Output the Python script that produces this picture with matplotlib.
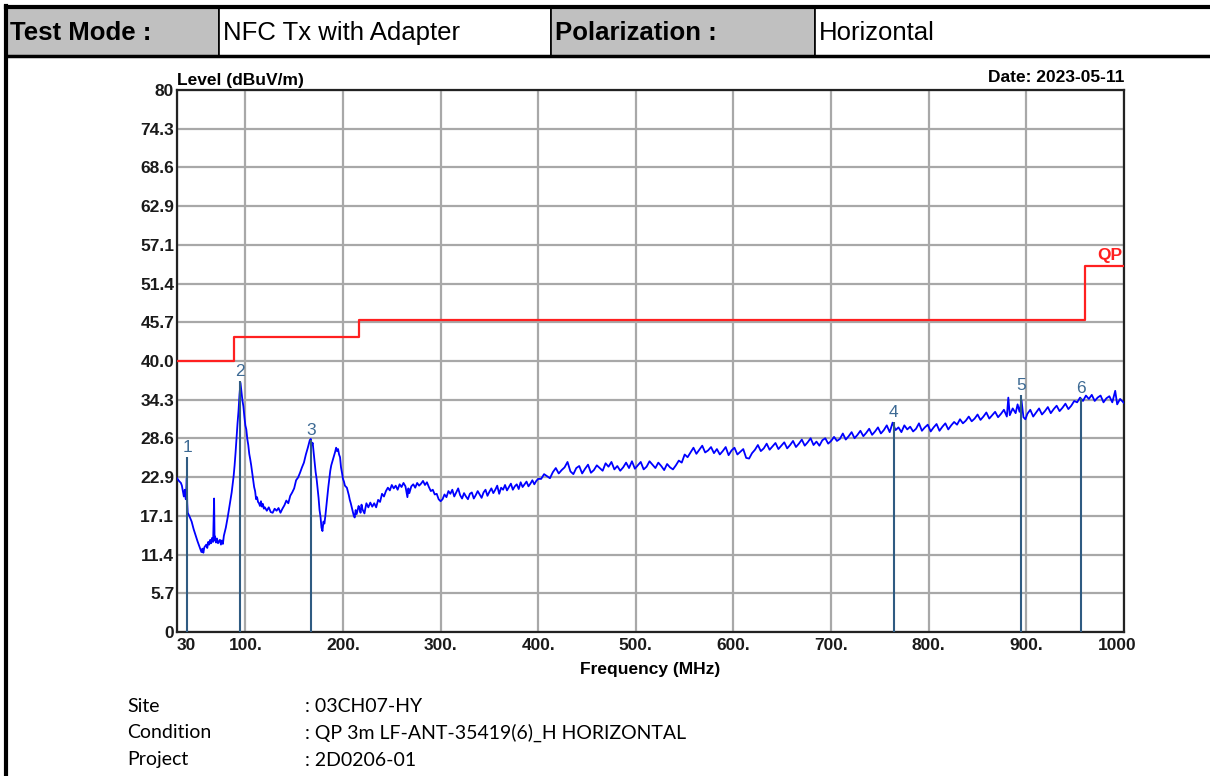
import matplotlib
matplotlib.use("Agg")
import matplotlib.pyplot as plt
from matplotlib.patches import Rectangle
from matplotlib.transforms import offset_copy

# ---------------- data ----------------
freq = [30, 32, 34, 35, 36, 37, 38, 39, 40, 40.5, 41, 43, 45, 47, 49, 51, 53, 55, 56, 57, 58, 60, 61, 62, 63, 64, 65, 66, 67, 68, 68.5, 69, 70, 71, 72, 74, 75, 76, 77, 78, 80, 82, 84, 86, 88, 89, 90, 91, 92, 93, 94, 95, 96, 97, 98, 99, 100,
        101, 102, 103, 104, 105, 106, 107, 108, 109, 110, 111, 112, 113, 114, 115, 116, 117, 118, 119, 120, 122, 124, 126, 128, 130, 132, 134, 136, 138, 140, 142, 144, 146, 148, 150,
        152, 154, 156, 158, 160, 162, 164, 166, 167, 168, 169, 170, 171, 172, 173, 174, 175, 176, 177, 178, 179, 180, 181, 182, 183, 184, 185, 186, 187, 188, 190, 192, 193, 194, 195, 196, 197, 198, 199, 200,
        201, 202, 204, 206, 207, 208, 210, 211, 212, 213, 214, 216, 217, 218, 219, 220, 222, 223, 224, 226, 228, 230, 232, 234, 236, 238, 240, 242, 244, 246, 248, 250,
        252, 254, 256, 258, 260, 262, 264, 266, 267, 268, 270, 272, 274, 276, 278, 280, 282, 284, 286, 288, 290, 292, 294, 296, 298, 300,
        302, 304, 306, 308, 310, 312, 314, 316, 318, 320, 322, 324, 326, 328, 330, 332, 334, 336, 338, 340, 342, 344, 346, 348, 350,
        352, 354, 356, 358, 360, 362, 364, 366, 368, 370, 372, 374, 376, 378, 380, 382, 384, 386, 388, 390, 392, 394, 396, 398, 400,
        403, 406, 409, 412, 415, 418, 421, 424, 427, 430, 433, 436, 439, 442, 445, 448, 451, 454, 457, 460, 463, 466, 469, 472, 475, 478, 481, 484, 487, 490, 493, 496, 499,
        502, 505, 508, 511, 514, 517, 520, 523, 526, 529, 532, 535, 538, 541, 544, 547, 550, 553, 556, 559, 562, 565, 568, 571, 574, 577, 580, 583, 586, 589, 592, 595, 598,
        601, 604, 607, 610, 613, 616, 619, 622, 625, 628, 631, 634, 637, 640, 643, 646, 649, 652, 655, 658, 661, 664, 667, 670, 673, 676, 679, 682, 685, 688, 691, 694, 697, 700,
        703, 706, 709, 712, 715, 718, 721, 724, 727, 730, 733, 736, 739, 742, 745, 748, 751, 754, 757, 760, 763, 766, 769, 772, 775, 778, 781, 784, 787, 790, 793, 796, 799,
        802, 805, 808, 811, 814, 817, 820, 823, 826, 829, 832, 835, 838, 841, 844, 847, 850, 853, 856, 859, 862, 865, 868, 871, 874, 877, 880, 881.5, 883, 886, 889, 891, 893, 895, 897, 899,
        901, 904, 907, 910, 913, 916, 919, 922, 925, 928, 931, 934, 937, 940, 943, 946, 949, 952, 955, 958, 961, 964, 967, 970, 973, 976, 979, 982, 985, 988, 991, 993, 996, 1000]
level = [22.7, 22.3, 22.0, 21.6, 20.8, 20.0, 21.0, 19.6, 22.7, 19.0, 17.6, 17.0, 16.3, 15.2, 14.3, 13.4, 12.6, 11.8, 12.3, 11.7, 12.5, 12.9, 12.4, 13.3, 12.9, 13.6, 13.1, 13.9, 13.3, 19.7, 13.5, 14.1, 13.2, 13.8, 13.1, 13.6, 12.9, 13.5, 13.0, 14.2, 15.4, 17.0, 18.8, 20.6, 23.0, 24.6, 26.5, 28.7, 30.8, 32.6, 35.0, 36.8, 35.5, 34.2, 33.3, 31.8, 30.5,
         29.9, 28.5, 27.6, 26.3, 25.5, 24.6, 23.5, 22.3, 21.4, 20.8, 19.6, 19.9, 19.2, 19.0, 18.6, 19.3, 18.5, 18.9, 18.2, 18.4, 17.9, 18.4, 17.7, 17.6, 18.2, 17.9, 18.3, 17.6, 18.2, 18.7, 19.4, 19.0, 20.1, 20.6, 21.2,
         22.4, 22.8, 23.5, 24.3, 25.0, 26.2, 27.2, 28.3, 28.5, 27.6, 27.9, 26.5, 25.0, 23.6, 22.6, 21.2, 19.8, 18.0, 17.0, 15.4, 14.9, 16.3, 16.0, 17.2, 18.6, 20.0, 21.4, 22.6, 23.8, 24.6, 25.6, 26.6, 27.2, 26.7, 27.0, 26.2, 25.8, 24.3, 23.5, 22.6,
         22.2, 21.6, 21.3, 20.2, 19.5, 19.0, 17.8, 17.2, 16.9, 18.0, 17.4, 18.6, 18.2, 17.6, 18.8, 18.1, 17.5, 18.3, 19.0, 18.4, 19.1, 18.5, 19.0, 18.4, 19.5, 19.2, 20.4, 20.0, 20.8, 21.3, 20.9, 21.7,
         21.2, 21.6, 21.0, 21.8, 21.4, 22.0, 21.5, 19.9, 21.2, 20.5, 21.5, 21.8, 21.3, 22.0, 21.6, 21.9, 22.3, 21.7, 22.1, 21.4, 20.8, 21.0, 20.3, 20.4, 19.6, 19.3,
         19.6, 20.3, 19.9, 20.8, 20.4, 21.0, 20.0, 20.6, 21.2, 20.2, 19.7, 20.5, 20.0, 19.6, 20.4, 20.6, 19.7, 20.2, 20.8, 20.3, 19.8, 20.6, 21.0, 20.1, 20.7,
         21.2, 20.5, 21.0, 21.6, 20.4, 21.3, 21.0, 21.7, 20.9, 21.4, 21.9, 21.0, 21.5, 21.8, 21.1, 22.1, 21.4, 21.8, 22.2, 21.5, 21.9, 22.4, 21.8, 22.3, 22.6,
         22.6, 23.3, 23.0, 22.7, 23.6, 24.2, 23.4, 23.9, 24.3, 25.1, 23.7, 23.3, 24.2, 24.5, 23.4, 24.1, 24.7, 23.5, 23.9, 24.6, 24.2, 23.8, 24.9, 24.4, 25.1, 24.0, 24.5, 23.8, 24.3, 25.0, 24.2, 25.2, 24.1,
         24.6, 25.1, 24.0, 24.4, 25.2, 24.7, 24.2, 25.0, 24.5, 23.9, 24.8, 24.3, 24.0, 24.6, 25.3, 25.0, 26.2, 25.8, 26.5, 27.2, 26.3, 26.9, 27.5, 26.5, 26.8, 27.3, 26.4, 27.0, 26.2, 26.7, 27.3, 26.1, 26.8,
         27.2, 26.2, 26.6, 27.0, 25.7, 25.6, 26.4, 26.9, 27.6, 26.7, 27.1, 27.8, 26.9, 27.4, 27.9, 27.0, 27.5, 28.0, 27.1, 27.6, 28.2, 27.3, 27.8, 28.4, 27.5, 28.0, 28.6, 27.6, 28.1, 27.5, 28.3, 28.6, 27.8, 28.2,
         28.8, 28.2, 28.5, 29.3, 28.4, 28.9, 29.5, 28.6, 29.1, 29.7, 28.9, 29.4, 30.0, 29.1, 29.6, 30.2, 29.3, 29.8, 30.5, 29.5, 30.9, 29.8, 30.2, 29.5, 30.5, 29.9, 30.3, 29.6, 30.0, 30.8, 29.7, 30.2, 30.6,
         29.6, 30.2, 30.7, 29.7, 30.3, 30.8, 29.9, 30.5, 31.0, 30.6, 31.4, 30.8, 31.2, 31.8, 31.1, 31.5, 32.1, 31.3, 31.8, 32.4, 31.5, 32.0, 32.5, 31.7, 32.2, 32.8, 31.8, 34.6, 32.0, 33.0, 32.3, 33.6, 32.5, 34.2, 31.7, 31.4,
         32.2, 32.8, 31.8, 32.4, 33.0, 32.1, 32.6, 33.2, 32.3, 32.9, 33.4, 32.6, 33.1, 33.7, 32.9, 33.4, 34.1, 33.9, 34.6, 34.1, 34.9, 34.4, 35.0, 34.1, 34.6, 34.9, 33.9, 34.5, 34.8, 33.9, 35.6, 33.6, 34.4, 33.8]

limit_edges = [30, 88, 216, 960, 1000]
limit_values = [40.0, 43.5, 46.0, 54.0, 54.0]

marker_freq = [40.6, 94.5, 167.0, 764.0, 895.0, 955.6]
marker_level = [25.8, 37.1, 28.4, 31.0, 35.0, 34.5]
marker_labels = ["1", "2", "3", "4", "5", "6"]

ytick_labels = ["0", "5.7", "11.4", "17.1", "22.9", "28.6", "34.3", "40.0",
                "45.7", "51.4", "57.1", "62.9", "68.6", "74.3", "80"]
xtick_vals = [30, 100, 200, 300, 400, 500, 600, 700, 800, 900, 1000]
xtick_labels = ["30", "100.", "200.", "300.", "400.", "500.", "600.", "700.", "800.", "900.", "1000"]

header_texts = ["Test Mode :", "NFC Tx with Adapter", "Polarization :", "Horizontal"]
info_keys = ["Site", "Condition", "Project"]
info_vals = [": 03CH07-HY", ": QP 3m LF-ANT-35419(6)_H HORIZONTAL", ": 2D0206-01"]

# ---------------- figure ----------------
W, H = 1210, 776
fig = plt.figure(figsize=(W / 100, H / 100), dpi=100)
fig.patch.set_facecolor("white")

SANS = ["Liberation Sans", "DejaVu Sans"]
FS = 12.5

ax = fig.add_axes([177 / W, 1 - 632 / H, (1124 - 177) / W, (632 - 90) / H])
ax.set_xlim(30, 1000)
ax.set_ylim(0, 80)

ytick_vals = [float(s) for s in ytick_labels]
ax.set_yticks(ytick_vals)
ax.set_yticklabels(ytick_labels)
ax.set_xticks(xtick_vals)
ax.set_xticklabels(xtick_labels)
ax.tick_params(axis="y", length=0, pad=2)
ax.tick_params(axis="x", length=0, pad=4)
for lab in ax.get_xticklabels() + ax.get_yticklabels():
    lab.set_fontfamily(SANS)
    lab.set_fontweight("bold")
    lab.set_fontsize(FS)
    lab.set_color("#1a1a1a")
ax.get_xticklabels()[0].set_ha("left")
last = ax.get_xticklabels()[-1]
last.set_transform(offset_copy(last.get_transform(), fig=fig, x=-7, y=0, units="dots"))

ax.grid(True, color="#a8a8a8", linewidth=1.6)
ax.set_axisbelow(True)
for sp in ax.spines.values():
    sp.set_linewidth(1.6)
    sp.set_color("#222222")

ax.plot(freq, level, color="#0000ff", linewidth=1.3, zorder=3)
ax.step(limit_edges, limit_values, where="post", color="#ff2020", linewidth=1.6, zorder=3)
ax.text(998, limit_values[-1] + 0.5, "QP", color="#ff2020", fontsize=FS, fontweight="bold",
        family=SANS, ha="right", va="bottom")

ax.vlines(marker_freq, 0, marker_level, color="#2f5b82", linewidth=1.5, zorder=4)
for f, v, t in zip(marker_freq, marker_level, marker_labels):
    ax.annotate(t, (f, v), xytext=(0, 1.5), textcoords="offset points", ha="center", va="bottom",
                fontsize=FS, color="#3d6a94", family=SANS)

ax.set_xlabel("Frequency (MHz)", fontsize=FS, fontweight="bold", family=SANS, labelpad=7)
ax.text(0, 1.003, "Level (dBuV/m)", transform=ax.transAxes, fontsize=FS, fontweight="bold",
        family=SANS, ha="left", va="bottom")
ax.text(1, 1.01, "Date: 2023-05-11", transform=ax.transAxes, fontsize=FS, fontweight="bold",
        family=SANS, ha="right", va="bottom")

# ---------------- overlay (header & info) ----------------
ov = fig.add_axes([0, 0, 1, 1], zorder=-1)
ov.set_xlim(0, W)
ov.set_ylim(H, 0)
ov.axis("off")

cells = [(6, 219, "#c0c0c0", True), (219, 551, "white", False),
         (551, 815, "#c0c0c0", True), (815, 1212, "white", False)]
for (x0, x1, c, b), t in zip(cells, header_texts):
    ov.add_patch(Rectangle((x0, 7), x1 - x0, 49, facecolor=c, edgecolor="black", linewidth=1.2))
    ov.text(x0 + 4, 33, t, fontsize=18.5, fontweight="bold" if b else "normal", family=SANS,
            ha="left", va="center")
ov.plot([6, W], [7, 7], color="black", linewidth=3)
ov.plot([6, W], [56, 56], color="black", linewidth=2.5)
ov.plot([6, 6], [6, H], color="black", linewidth=3)

for i, (k, v) in enumerate(zip(info_keys, info_vals)):
    y = 706 + i * 27
    ov.text(127, y, k, fontsize=14, family=["Lato", "DejaVu Sans"], ha="left", va="center")
    ov.text(305, y, v, fontsize=14, family=["Lato", "DejaVu Sans"], ha="left", va="center")

fig.savefig("out.png", dpi=100)
